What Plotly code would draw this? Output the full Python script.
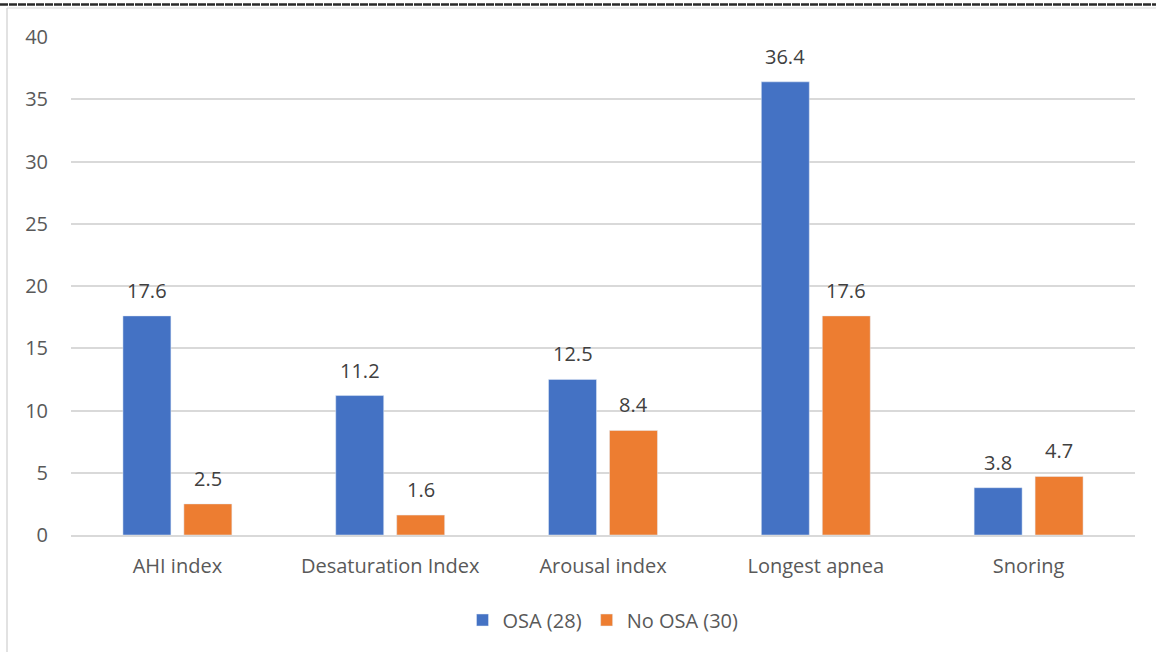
import plotly.graph_objects as go

categories = ["AHI index", "Desaturation Index", "Arousal index", "Longest apnea", "Snoring"]
osa = [17.6, 11.2, 12.5, 36.4, 3.8]
no_osa = [2.5, 1.6, 8.4, 17.6, 4.7]
series_names = ["OSA (28)", "No OSA (30)"]
y_ticks = [0, 5, 10, 15, 20, 25, 30, 35, 40]

W, H = 1156, 652
L, R, T, B = 71, 21, 37, 117
pw, ph = W - L - R, H - T - B

def px_x(x):
    return (x - L) / pw

def px_y(y):
    return (H - B - y) / ph

FONT = "Open Sans, Liberation Sans, sans-serif"
FS = 20
BARGAP, GROUPGAP = 0.427, 0.213
slot_px = pw / len(categories) * (1 - BARGAP) / 2

fig = go.Figure()
fig.add_trace(go.Bar(x=categories, y=osa, name=series_names[0], marker_color="#4472C4"))
fig.add_trace(go.Bar(x=categories, y=no_osa, name=series_names[1], marker_color="#ED7D31"))

annotations = []
for vals, sign in ((osa, -1), (no_osa, 1)):
    for c, v in zip(categories, vals):
        annotations.append(dict(x=c, y=v, xref="x", yref="y", text=f"{v:.1f}", showarrow=False,
                                xshift=sign * slot_px / 2, yshift=10, yanchor="bottom",
                                font=dict(size=FS, color="#404040", family=FONT)))

fig.update_layout(
    width=W, height=H,
    margin=dict(l=L, r=R, t=T, b=B),
    paper_bgcolor="white", plot_bgcolor="white",
    font=dict(family=FONT, size=FS, color="#595959"),
    barmode="group", bargap=BARGAP, bargroupgap=GROUPGAP,
    showlegend=True,
    legend=dict(orientation="h", x=0.5, xanchor="center", y=px_y(620), yanchor="middle",
                font=dict(size=FS, color="#595959"), itemwidth=30, tracegroupgap=0),
    xaxis=dict(showgrid=False, showline=True, linecolor="#D9D9D9", linewidth=1.5,
               ticks="", ticklabelstandoff=12, tickfont=dict(size=FS, color="#595959")),
    yaxis=dict(range=[0, 40], tickvals=y_ticks, showgrid=True, gridcolor="#D9D9D9",
               gridwidth=1.5, zeroline=False, showline=False, ticks="",
               ticklabelstandoff=22,
               tickfont=dict(size=FS, color="#595959")),
    annotations=annotations,
    shapes=[
        dict(type="line", xref="paper", yref="paper", x0=px_x(0), x1=px_x(W), y0=px_y(4.5), y1=px_y(4.5),
             line=dict(color="#2b2b2b", width=2.5, dash="8px,1px")),
        dict(type="line", xref="paper", yref="paper", x0=px_x(7), x1=px_x(W), y0=px_y(8), y1=px_y(8),
             line=dict(color="#D9D9D9", width=1)),
        dict(type="line", xref="paper", yref="paper", x0=px_x(7), x1=px_x(7), y0=px_y(8), y1=px_y(H),
             line=dict(color="#D9D9D9", width=1.5)),
    ],
)

fig.write_html("out.html", config={"displayModeBar": False},
               post_script="document.body.style.margin='0px';")
